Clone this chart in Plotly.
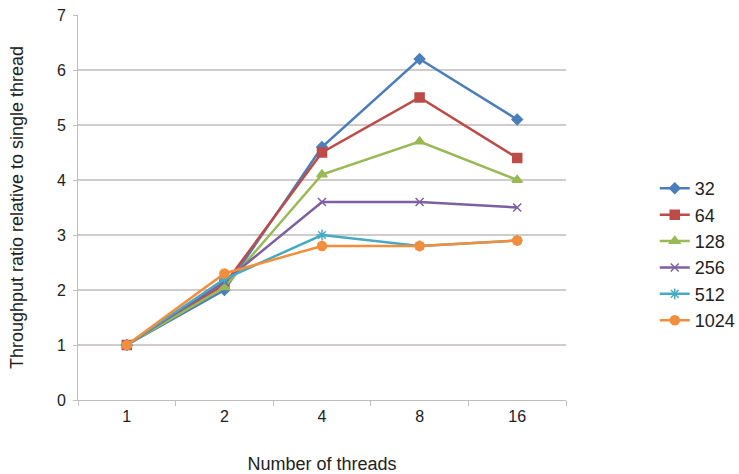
import plotly.graph_objects as go

threads = ["1", "2", "4", "8", "16"]
series_names = ["32", "64", "128", "256", "512", "1024"]
s32 = [1.0, 2.0, 4.6, 6.2, 5.1]
s64 = [1.0, 2.1, 4.5, 5.5, 4.4]
s128 = [1.0, 2.05, 4.1, 4.7, 4.0]
s256 = [1.0, 2.15, 3.6, 3.6, 3.5]
s512 = [1.0, 2.2, 3.0, 2.8, 2.9]
s1024 = [1.0, 2.3, 2.8, 2.8, 2.9]

values = [s32, s64, s128, s256, s512, s1024]
colors = ["#4A7EBB", "#BE4B48", "#98B954", "#7D60A0", "#46AAC5", "#F28E3C"]
symbols = ["diamond", "square", "triangle-up", "x-thin-open", "asterisk-open", "circle"]
sizes = [8, 9, 9, 8, 9, 9]

fig = go.Figure()
for name, v, c, s, sz in zip(series_names, values, colors, symbols, sizes):
    fig.add_trace(go.Scatter(
        x=threads, y=v, name=name, mode="lines+markers",
        line=dict(color=c, width=2.5),
        marker=dict(symbol=s, size=sz, color=c, line=dict(color=c, width=1.5)),
    ))

fig.update_layout(
    width=739, height=474,
    margin=dict(l=78, r=173, t=15, b=74, autoexpand=False),
    paper_bgcolor="white", plot_bgcolor="white",
    font=dict(family="Liberation Sans, Arial, sans-serif", size=15, color="#222222"),
    showlegend=True,
    legend=dict(xref="container", yref="container", x=0.886, y=0.463,
                xanchor="left", yanchor="middle",
                font=dict(size=18), tracegroupgap=0, itemwidth=30),
    xaxis=dict(
        type="category", range=[-0.5, 4.5], automargin=False,
        showgrid=False, showline=True, linecolor="#BFBFBF", linewidth=1,
        ticks="outside", tickson="boundaries", ticklen=5, tickcolor="#BFBFBF",
        tickfont=dict(size=16), ticklabelstandoff=2,
        title=dict(text="Number of threads", standoff=38),
        zeroline=False,
    ),
    yaxis=dict(
        range=[0, 7], dtick=1, showgrid=True, gridcolor="#D0CCCC", gridwidth=1.5,
        automargin=False,
        showline=True, linecolor="#BFBFBF", linewidth=1,
        ticks="outside", ticklen=4, tickcolor="#BFBFBF",
        tickfont=dict(size=16), ticklabelstandoff=4,
        title=dict(text="Throughput ratio relative to single thread", standoff=28),
        zeroline=False,
    ),
)

fig.write_html("out.html")
